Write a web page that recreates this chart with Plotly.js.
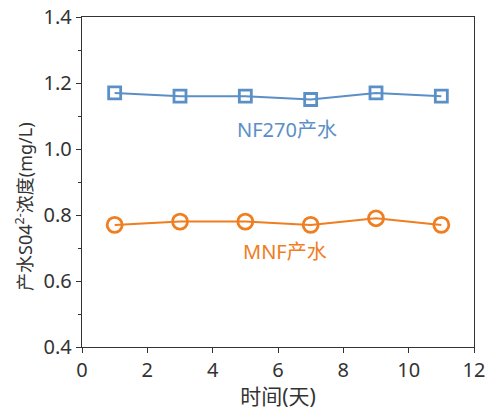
<!DOCTYPE html>
<html><head><meta charset="utf-8">
<script src="https://cdn.plot.ly/plotly-3.0.1.min.js"></script>
<style>html,body{margin:0;padding:0;background:#fff}#c{width:492px;height:410px}</style>
</head><body><div id="c"></div>
<script>
const days = [1, 3, 5, 7, 9, 11];
const nf270 = [1.17, 1.16, 1.16, 1.15, 1.17, 1.16];
const mnf = [0.77, 0.78, 0.78, 0.77, 0.79, 0.77];
const labelNF = "NF270产水";
const labelMNF = "MNF产水";
const xTitle = "时间(天)";
const yTitle = "产水S04<sup>2-</sup>浓度(mg/L)";
const blue = "#5b8fc7", orange = "#f07d1e";
const font = "Noto Sans, Noto Sans CJK SC, sans-serif";
const traces = [
  {x: days, y: nf270, type: "scatter", mode: "lines+markers", line: {color: blue, width: 2},
   marker: {symbol: "square-open", size: 12, color: blue, line: {width: 2.8, color: blue}}},
  {x: days, y: mnf, type: "scatter", mode: "lines+markers", line: {color: orange, width: 2},
   marker: {symbol: "circle-open", size: 15, color: orange, line: {width: 2.8, color: orange}}}
];
const axBase = {showgrid: false, zeroline: false, showline: true, linecolor: "#333", linewidth: 1.2,
  mirror: true, ticks: "outside", ticklen: 5, tickcolor: "#333", tickfont: {size: 20, color: "#333", family: font}};
const plotW = 492 - 82 - 18, plotH = 410 - 17 - 63;
const layout = {
  width: 492, height: 410, margin: {l: 82, r: 18, t: 17, b: 63},
  paper_bgcolor: "#fff", plot_bgcolor: "#fff", showlegend: false,
  font: {family: font, color: "#333"},
  xaxis: Object.assign({}, axBase, {range: [0, 12], dtick: 2, ticklabelstandoff: 0,
    title: {text: xTitle, font: {size: 21, family: font, color: "#333"}, standoff: 2}}),
  yaxis: Object.assign({}, axBase, {range: [0.4, 1.4], dtick: 0.2, tickformat: ".1f",
    minor: {dtick: 0.1, ticks: "outside", ticklen: 3, tickcolor: "#333"}}),
  annotations: [
    {x: (24 - 82) / plotW, y: (410 - 63 - 207) / plotH, xref: "paper", yref: "paper",
     xanchor: "center", yanchor: "middle", text: yTitle, textangle: -90, showarrow: false,
     font: {size: 18, color: "#333", family: font}},
    {x: 6.27, y: 1.06, xref: "x", yref: "y", text: labelNF, showarrow: false, font: {size: 20, color: blue, family: font}},
    {x: 6.22, y: 0.688, xref: "x", yref: "y", text: labelMNF, showarrow: false, font: {size: 20, color: orange, family: font}}
  ]
};
Plotly.newPlot("c", traces, layout, {displayModeBar: false, staticPlot: true});
</script></body></html>
